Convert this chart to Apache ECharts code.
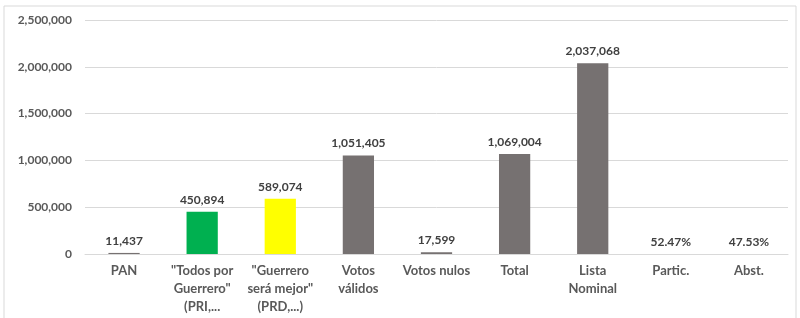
<!DOCTYPE html>
<html>
<head>
<meta charset="utf-8">
<script src="https://cdn.jsdelivr.net/npm/echarts@6/dist/echarts.min.js"></script>
<style>
  html, body { margin: 0; padding: 0; background: #fff; }
  #chart { width: 800px; height: 318px; }
</style>
</head>
<body>
<div id="chart"></div>
<script>
// categorias y valores
const categories = [
  'PAN',
  '"Todos por\nGuerrero"\n(PRI,...',
  '"Guerrero\nserá mejor"\n(PRD,...)',
  'Votos\nválidos',
  'Votos nulos',
  'Total',
  'Lista\nNominal',
  'Partic.',
  'Abst.'
];
const votes = [11437, 450894, 589074, 1051405, 17599, 1069004, 2037068, 0.5247, 0.4753];
const barColors = ['#767171', '#00b050', '#ffff00', '#767171', '#767171', '#767171', '#767171', '#767171', '#767171'];
const yTicks = [0, 500000, 1000000, 1500000, 2000000, 2500000];

const myChart = echarts.init(document.getElementById('chart'));

const fmt = (v) => v < 1 ? (v * 100).toFixed(2) + '%' : Math.round(v).toLocaleString('en-US');

const option = {
  animation: false,
  textStyle: { fontFamily: 'Lato' },
  graphic: [{
    type: 'rect',
    shape: { x: 4, y: 6, width: 792, height: 330 },
    style: { fill: 'none', stroke: '#d9d9d9', lineWidth: 1 }
  }],
  grid: { left: 85, right: 12, top: 20, bottom: 64 },
  xAxis: {
    type: 'category',
    data: categories,
    axisTick: { show: false },
    axisLine: { lineStyle: { color: '#d9d9d9' } },
    axisLabel: {
      color: '#595959',
      fontSize: 13,
      fontWeight: 'bold',
      lineHeight: 18,
      margin: 8,
      interval: 0
    }
  },
  yAxis: {
    type: 'value',
    min: yTicks[0],
    max: yTicks[yTicks.length - 1],
    interval: 500000,
    axisLine: { show: false },
    axisTick: { show: false },
    splitLine: { lineStyle: { color: '#d9d9d9' } },
    axisLabel: {
      color: '#595959',
      fontSize: 12,
      fontWeight: 'bold',
      margin: 13,
      formatter: (v) => v.toLocaleString('en-US')
    }
  },
  series: [{
    type: 'bar',
    barWidth: '40%',
    data: votes.map((v, i) => ({ value: v, itemStyle: { color: barColors[i] } })),
    label: {
      show: true,
      position: 'top',
      distance: 6,
      color: '#404040',
      fontSize: 12,
      fontWeight: 'bold',
      formatter: (p) => fmt(p.value)
    }
  }]
};

myChart.setOption(option);
</script>
</body>
</html>
